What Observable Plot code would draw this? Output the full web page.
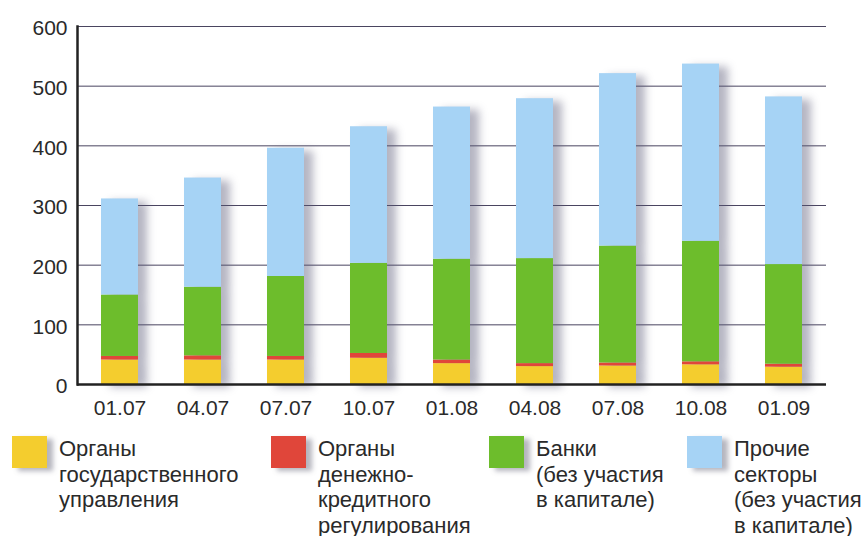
<!DOCTYPE html>
<html>
<head>
<meta charset="utf-8">
<script src="https://cdn.jsdelivr.net/npm/d3@7"></script>
<script src="https://cdn.jsdelivr.net/npm/@observablehq/plot@0.6"></script>
<style>
  html, body { margin: 0; padding: 0; background: #fff; }
  #wrap { position: relative; width: 866px; height: 536px; font-family: "Liberation Sans", Arial, sans-serif; }
  #legend { position: absolute; left: 0; top: 420px; width: 866px; height: 116px; }
  .item { position: absolute; top: 16px; }
  .sw { position: absolute; top: 0; left: 0; width: 35px; height: 32px; box-shadow: 6px 3px 5px rgba(90,90,110,0.45); }
  .lab { position: absolute; top: 0px; left: 47px; font-size: 22px; line-height: 25.5px; color: #2a2a2a; white-space: nowrap; }
</style>
</head>
<body>
<div id="wrap">
  <div id="chart"></div>
  <div id="legend"></div>
</div>
<script>
const categories = ["01.07","04.07","07.07","10.07","01.08","04.08","07.08","10.08","01.09"];
const seriesNames = [
  "Органы государственного управления",
  "Органы денежно-кредитного регулирования",
  "Банки (без участия в капитале)",
  "Прочие секторы (без участия в капитале)"
];
const legendLines = [
  ["Органы", "государственного", "управления"],
  ["Органы", "денежно-", "кредитного", "регулирования"],
  ["Банки", "(без участия", "в капитале)"],
  ["Прочие", "секторы", "(без участия", "в капитале)"]
];
const government = [41, 41, 41, 44, 35, 30, 31, 33, 29];
const monetary   = [6, 7, 6, 8, 6, 5, 5, 5, 5];
const banks      = [103, 115, 134, 151, 169, 176, 196, 202, 167];
const others     = [161, 183, 215, 229, 255, 268, 289, 297, 281];
const yTicks = [0, 100, 200, 300, 400, 500, 600];
const colors = ["#f4cd2e", "#e0463a", "#6dbd2c", "#a6d3f5"];
const legendLeft = [12, 271, 489, 687];

const seriesValues = [government, monetary, banks, others];
const data = [];
categories.forEach((c, i) => {
  seriesValues.forEach((vals, s) => data.push({date: c, series: seriesNames[s], value: vals[i]}));
});

const chart = Plot.plot({
  width: 866,
  height: 420,
  marginLeft: 77,
  marginRight: 40,
  marginTop: 26,
  marginBottom: 36,
  style: {background: "#fff", fontFamily: "'Liberation Sans', Arial, sans-serif", color: "#2a2a2a"},
  x: {domain: categories, paddingInner: 0.555, paddingOuter: 0.28, label: null},
  y: {domain: [0, 600], label: null},
  color: {domain: seriesNames, range: colors},
  marks: [
    Plot.ruleY(yTicks.filter(d => d > 0), {stroke: "#4a4560", strokeWidth: 1}),
    Plot.barY(data, {x: "date", y: "value", fill: "series", order: null}),
    Plot.axisY({ticks: yTicks, tickSize: 0, tickPadding: 10, fontSize: 21, dy: 2, tickFormat: d => String(d)}),
    Plot.axisX({tickSize: 0, tickPadding: 16, fontSize: 21}),
    Plot.frame({anchor: "left", stroke: "#222", strokeWidth: 2.5}),
    Plot.ruleY([0], {stroke: "#222", strokeWidth: 2.5})
  ]
});
d3.select(chart).selectAll('g[aria-label="bar"]').style("filter", "drop-shadow(9px 3px 4px rgba(90,90,120,0.45))");
document.getElementById("chart").appendChild(chart);

const legend = d3.select("#legend");
seriesNames.forEach((name, i) => {
  const it = legend.append("div").attr("class", "item").style("left", legendLeft[i] + "px");
  it.append("div").attr("class", "sw").style("background", colors[i]);
  it.append("div").attr("class", "lab").html(legendLines[i].join("<br>"));
});
</script>
</body>
</html>
